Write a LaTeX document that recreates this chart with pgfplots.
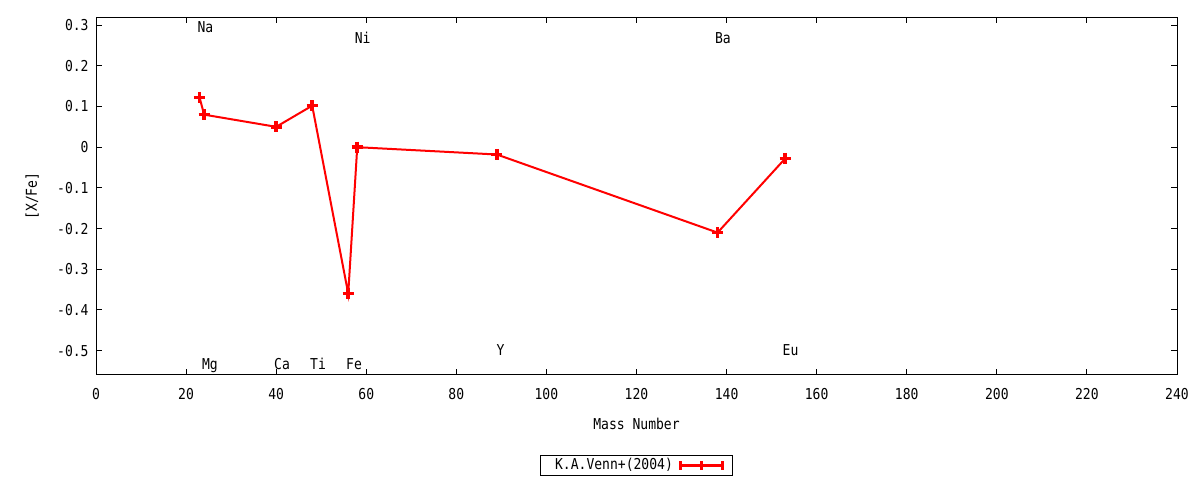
\documentclass[border=0pt]{standalone}
\usepackage{fontspec}
\setmainfont[FakeStretch=0.87]{DejaVu Sans Mono}
\usepackage{pgfplots}
\pgfplotsset{compat=1.18}
\begin{document}
\fontsize{7.5}{9}\selectfont
\begin{tikzpicture}
\useasboundingbox (0,0) rectangle (600pt,240pt);
\begin{axis}[
  at={(48pt,52.5pt)}, anchor=south west,
  scale only axis, width=540.5pt, height=179pt,
  xmin=0, xmax=240, ymin=-0.56, ymax=0.32,
  xtick={0,20,...,240},
  ytick={-0.5,-0.4,-0.3,-0.2,-0.1,0,0.1,0.2,0.3},
  yticklabels={-0.5,-0.4,-0.3,-0.2,-0.1,0,0.1,0.2,0.3},
  /pgf/number format/assume math mode=true,
  tick align=inside, major tick length=3pt,
  tick style={black, line width=0.5pt},
  axis line style={line width=0.5pt},
  minor tick num=0,
  xticklabel style={yshift=-4pt},
  yticklabel style={xshift=-1pt},
  xlabel={Mass Number},
  ylabel={[X/Fe]},
  xlabel style={yshift=-4pt},
  ylabel style={yshift=4pt},
  legend style={at={(0.5,-0.252)}, anchor=center, draw=black, line width=0.5pt,
    inner xsep=4.5pt, inner ysep=0.5pt, font=\fontsize{7.5}{9}\selectfont,
    nodes={inner ysep=1pt, inner xsep=3pt}},
  legend plot pos=right,
  legend image code/.code={
    \draw[red, line width=1.5pt] (3pt,0pt) -- (24pt,0pt);
    \draw[red, line width=1.5pt] (3pt,-2.2pt) -- (3pt,2.2pt);
    \draw[red, line width=1.5pt] (24pt,-2.2pt) -- (24pt,2.2pt);
    \draw[red, line width=1.5pt] (13.5pt,-2.2pt) -- (13.5pt,2.2pt);
  },
]
\addplot[red, line width=1pt, mark=+, mark size=2.8pt,
  mark options={line width=1.8pt}] coordinates {
  (23,0.122) (24,0.080) (40,0.050) (48,0.102) (56,-0.360)
  (58,0.000) (89,-0.018) (138,-0.210) (153,-0.028)
};
\addlegendentry{K.A.Venn+(2004)}
\begin{scope}[every node/.style={anchor=base}]
\node at (axis cs:24.3,0.281) {Na};
\node at (axis cs:59.2,0.255) {Ni};
\node at (axis cs:139.2,0.255) {Ba};
\node at (axis cs:25.3,-0.547) {Mg};
\node at (axis cs:41.3,-0.547) {Ca};
\node at (axis cs:49.3,-0.547) {Ti};
\node at (axis cs:57.3,-0.547) {Fe};
\node at (axis cs:89.8,-0.512) {Y};
\node at (axis cs:154.2,-0.512) {Eu};
\end{scope}
\end{axis}
\end{tikzpicture}
\end{document}
